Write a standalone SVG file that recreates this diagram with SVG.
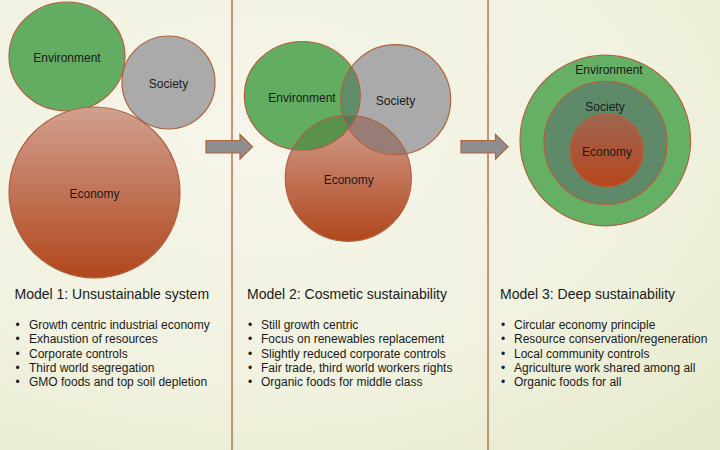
<svg xmlns="http://www.w3.org/2000/svg" width="720" height="450" viewBox="0 0 720 450">
<defs>
<radialGradient id="bg" cx="0.35" cy="0.3" r="0.9">
<stop offset="0" stop-color="#f6f5ea"/>
<stop offset="0.6" stop-color="#f1f2e0"/>
<stop offset="1" stop-color="#e6ebcc"/>
</radialGradient>
<linearGradient id="eco" x1="0" y1="0" x2="0" y2="1">
<stop offset="0" stop-color="#d2a090"/>
<stop offset="1" stop-color="#b0461c"/>
</linearGradient>
<linearGradient id="eco3" x1="0" y1="0" x2="0" y2="1">
<stop offset="0" stop-color="#9e6650"/>
<stop offset="1" stop-color="#b8461c"/>
</linearGradient>
<clipPath id="clipEnv2"><ellipse cx="302.3" cy="95.8" rx="58" ry="54.3"/></clipPath>
<clipPath id="clipSoc2"><circle cx="395.7" cy="99.7" r="55"/></clipPath>
<style>
.c{stroke:#b0623e;stroke-width:1.2}
.s{fill:none;stroke:#b0623e;stroke-width:1.2}
.env{fill:#62ad62}
.soc{fill:#aaaaaa}
.eco{fill:url(#eco)}
.lbl{font-family:"Liberation Sans",Arial,sans-serif;font-size:12px;fill:#1a1a1a;text-anchor:middle}
.ttl{font-family:"Liberation Sans",Arial,sans-serif;font-size:14px;fill:#1a1a1a}
.bul{font-family:"Liberation Sans",Arial,sans-serif;font-size:12px;fill:#1a1a1a}
.div{stroke:#c0704f;stroke-width:1.5}
.arr{fill:#8e8e8e;stroke:#b0623e;stroke-width:1.2}
</style>
</defs>
<rect width="720" height="450" fill="url(#bg)"/>
<g id="dividers">
<line class="div" x1="232" y1="0" x2="232" y2="450"/>
<line class="div" x1="488" y1="0" x2="488" y2="450"/>
</g>
<g id="connectors">
<path class="arr" d="M206,140.5 H240 V134.5 L252.5,146.8 L240,159 V153 H206 Z"/>
<path class="arr" d="M461,140.5 H495.5 V134.5 L508,146.8 L495.5,159 V153 H461 Z"/>
</g>
<g id="model1">
<g id="m1-environment"><ellipse class="c env" cx="67" cy="56.5" rx="58" ry="54.5"/><text class="lbl" x="67" y="62">Environment</text></g>
<g id="m1-society"><circle class="c soc" cx="168.5" cy="82.5" r="46.5"/><text class="lbl" x="168.5" y="88">Society</text></g>
<g id="m1-economy"><circle class="c eco" cx="94.5" cy="192.5" r="85.5"/><text class="lbl" x="94.5" y="198">Economy</text></g>
</g>
<g id="model2">
<g id="m2-economy"><circle class="eco" cx="348.3" cy="178.3" r="63"/></g>
<g id="m2-society"><circle class="soc" cx="395.7" cy="99.7" r="55"/></g>
<g id="m2-environment"><ellipse class="env" cx="302.3" cy="95.8" rx="58" ry="54.3"/></g>
<g id="m2-overlaps">
<circle cx="395.7" cy="99.7" r="55" fill="#5f8c69" clip-path="url(#clipEnv2)"/>
<circle cx="348.3" cy="178.3" r="63" fill="#58924c" clip-path="url(#clipEnv2)"/>
<circle cx="348.3" cy="178.3" r="63" fill="#987c76" clip-path="url(#clipSoc2)"/>
<g clip-path="url(#clipSoc2)"><circle cx="348.3" cy="178.3" r="63" fill="#5b7a5c" clip-path="url(#clipEnv2)"/></g>
</g>
<g id="m2-outlines">
<circle class="s" cx="348.3" cy="178.3" r="63"/>
<circle class="s" cx="395.7" cy="99.7" r="55"/>
<ellipse class="s" cx="302.3" cy="95.8" rx="58" ry="54.3"/>
</g>
<text class="lbl" x="302" y="101.5">Environment</text>
<text class="lbl" x="395.5" y="105">Society</text>
<text class="lbl" x="348.7" y="184">Economy</text>
</g>
<g id="model3">
<g id="m3-environment"><circle class="c" cx="605.3" cy="140.5" r="85.3" fill="#66b066"/><text class="lbl" x="609" y="73.5">Environment</text></g>
<g id="m3-society"><circle class="c" cx="605.5" cy="142.8" r="61.5" fill="#5f8a6a"/><text class="lbl" x="605" y="110.5">Society</text></g>
<g id="m3-economy"><circle class="c" cx="606.7" cy="150.3" r="36.6" fill="url(#eco3)"/><text class="lbl" x="607" y="155.5">Economy</text></g>
</g>
<g id="text1">
<text class="ttl" x="14.5" y="298.5">Model 1: Unsustainable system</text>
<text class="bul" x="15.5" y="329">•</text><text class="bul" x="29" y="329">Growth centric industrial economy</text>
<text class="bul" x="15.5" y="343.3">•</text><text class="bul" x="29" y="343.3">Exhaustion of resources</text>
<text class="bul" x="15.5" y="357.6">•</text><text class="bul" x="29" y="357.6">Corporate controls</text>
<text class="bul" x="15.5" y="371.9">•</text><text class="bul" x="29" y="371.9">Third world segregation</text>
<text class="bul" x="15.5" y="386.2">•</text><text class="bul" x="29" y="386.2">GMO foods and top soil depletion</text>
</g>
<g id="text2">
<text class="ttl" x="247" y="298.5">Model 2: Cosmetic sustainability</text>
<text class="bul" x="248" y="329">•</text><text class="bul" x="261" y="329">Still growth centric</text>
<text class="bul" x="248" y="343.3">•</text><text class="bul" x="261" y="343.3">Focus on renewables replacement</text>
<text class="bul" x="248" y="357.6">•</text><text class="bul" x="261" y="357.6">Slightly reduced corporate controls</text>
<text class="bul" x="248" y="371.9">•</text><text class="bul" x="261" y="371.9">Fair trade, third world workers rights</text>
<text class="bul" x="248" y="386.2">•</text><text class="bul" x="261" y="386.2">Organic foods for middle class</text>
</g>
<g id="text3">
<text class="ttl" x="500" y="298.5">Model 3: Deep sustainability</text>
<text class="bul" x="501" y="329">•</text><text class="bul" x="514" y="329">Circular economy principle</text>
<text class="bul" x="501" y="343.3">•</text><text class="bul" x="514" y="343.3">Resource conservation/regeneration</text>
<text class="bul" x="501" y="357.6">•</text><text class="bul" x="514" y="357.6">Local community controls</text>
<text class="bul" x="501" y="371.9">•</text><text class="bul" x="514" y="371.9">Agriculture work shared among all</text>
<text class="bul" x="501" y="386.2">•</text><text class="bul" x="514" y="386.2">Organic foods for all</text>
</g>
</svg>
